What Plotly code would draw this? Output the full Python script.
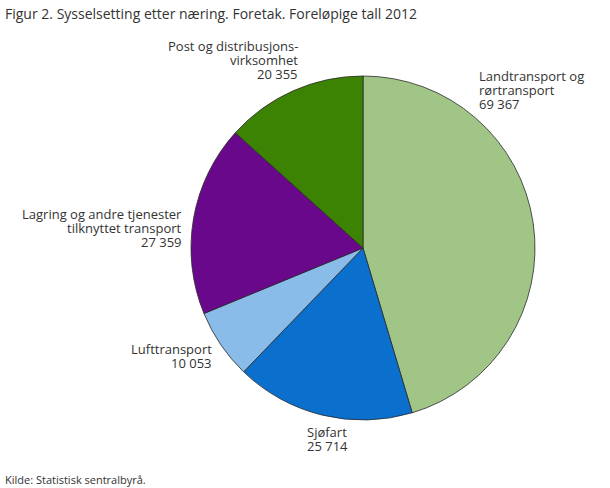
import plotly.graph_objects as go

categories = [
    "Landtransport og rørtransport",
    "Sjøfart",
    "Lufttransport",
    "Lagring og andre tjenester tilknyttet transport",
    "Post og distribusjonsvirksomhet",
]
label_lines = [
    ["Landtransport og", "rørtransport"],
    ["Sjøfart"],
    ["Lufttransport"],
    ["Lagring og andre tjenester", "tilknyttet transport"],
    ["Post og distribusjons-", "virksomhet"],
]
values = [69367, 25714, 10053, 27359, 20355]
colors = ["#a1c586", "#0b6fce", "#89bce8", "#69088a", "#3c8304"]

W, H = 610, 488
cx, cy, r = 363, 248, 172

fig = go.Figure(go.Pie(
    labels=categories,
    values=values,
    sort=False,
    direction="clockwise",
    rotation=0,
    textinfo="none",
    hoverinfo="label+value",
    marker=dict(colors=colors, line=dict(color="#2a2a2a", width=0.8)),
    domain=dict(x=[(cx - r) / W, (cx + r) / W], y=[1 - (cy + r) / H, 1 - (cy - r) / H]),
    showlegend=False,
))

def fmt(v):
    return f"{v:,}".replace(",", " ")

# label placement: (x px, first-line centre y px, anchor)
label_pos = [
    (478, 76, "left"),
    (306, 432, "left"),
    (213, 349, "right"),
    (183, 214, "right"),
    (299, 46, "right"),
]
LH = 14
annotations = []
for lines, v, (x, y, side) in zip(label_lines, values, label_pos):
    for i, t in enumerate(lines + [fmt(v)]):
        annotations.append(dict(
            x=x / W, y=1 - (y + i * LH) / H, xref="paper", yref="paper",
            xanchor=side, yanchor="middle", align=side, borderpad=0,
            text=t, showarrow=False,
            font=dict(family="Open Sans", size=13, color="#333333"),
        ))

annotations.append(dict(
    x=3 / W, y=1 - 14 / H, xref="paper", yref="paper", xanchor="left", yanchor="middle",
    text="Figur 2. Sysselsetting etter næring. Foretak. Foreløpige tall 2012",
    showarrow=False, font=dict(family="Open Sans", size=14, color="#333333"),
))
annotations.append(dict(
    x=3 / W, y=1 - 479 / H, xref="paper", yref="paper", xanchor="left", yanchor="middle",
    text="Kilde: Statistisk sentralbyrå.",
    showarrow=False, font=dict(family="Open Sans", size=11, color="#333333"),
))

fig.update_layout(
    width=W, height=H,
    margin=dict(l=0, r=0, t=0, b=0),
    paper_bgcolor="white",
    plot_bgcolor="white",
    annotations=annotations,
    font=dict(family="Open Sans"),
)

fig.write_html(
    "out.html",
    config={"displayModeBar": False},
    post_script="document.body.style.margin='0';document.body.style.overflow='hidden';",
)
